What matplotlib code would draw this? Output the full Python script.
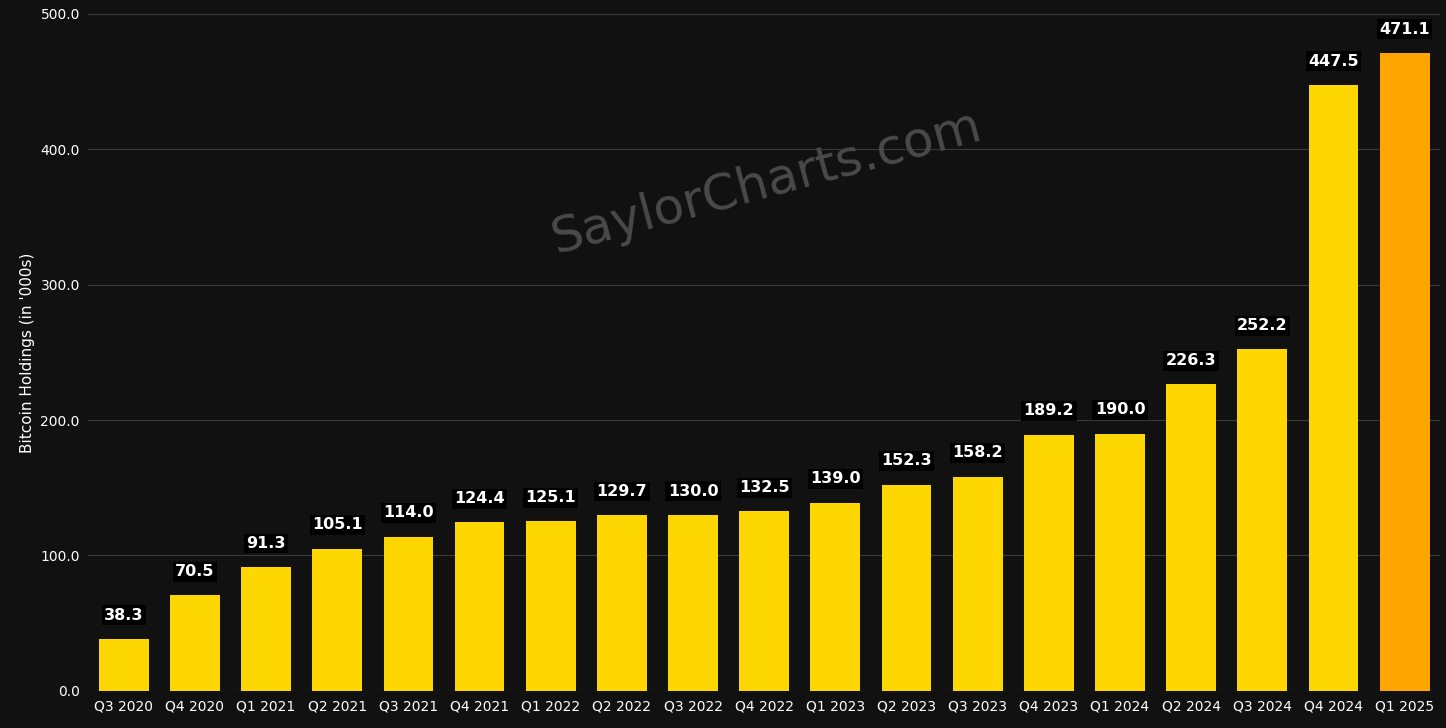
import matplotlib
matplotlib.use("Agg")
import matplotlib.pyplot as plt

quarters = ["Q3 2020", "Q4 2020", "Q1 2021", "Q2 2021", "Q3 2021", "Q4 2021",
            "Q1 2022", "Q2 2022", "Q3 2022", "Q4 2022", "Q1 2023", "Q2 2023",
            "Q3 2023", "Q4 2023", "Q1 2024", "Q2 2024", "Q3 2024", "Q4 2024",
            "Q1 2025"]
holdings = [38.3, 70.5, 91.3, 105.1, 114.0, 124.4, 125.1, 129.7, 130.0, 132.5,
            139.0, 152.3, 158.2, 189.2, 190.0, 226.3, 252.2, 447.5, 471.1]

BG = "#111111"
colors = ["#ffd700"] * (len(holdings) - 1) + ["#ffa500"]

fig = plt.figure(figsize=(14.46, 7.28), dpi=100, facecolor=BG)
ax = fig.add_axes([0.061, 0.051, 0.935, 0.930], facecolor=BG)
x = range(len(holdings))
ax.bar(x, holdings, width=0.7, color=colors, zorder=3)
for i, v in zip(x, holdings):
    ax.text(i, v + 12, f"{v:.1f}", ha="center", va="bottom", color="white",
            fontsize=11.5, fontweight="bold", zorder=4,
            bbox=dict(boxstyle="square,pad=0.15", fc="black", ec="none"))

ax.set_xlim(-0.5, len(holdings) - 0.5)
ax.set_ylim(0, 500)
ax.set_yticks(range(0, 501, 100))
ax.set_yticklabels([f"{t:.1f}" for t in range(0, 501, 100)])
ax.set_xticks(list(x))
ax.set_xticklabels(quarters)
ax.tick_params(colors="white", labelsize=10, length=0, pad=6)
ax.grid(axis="y", color="#3a3a3a", lw=0.8, zorder=0)
for s in ax.spines.values():
    s.set_visible(False)
ax.axhline(0, color="#555555", lw=0.8, zorder=2)
ax.set_ylabel("Bitcoin Holdings (in '000s)", color="white", fontsize=11)

fig.text(0.53, 0.75, "SaylorCharts.com", color="#4a4a4a", fontsize=36,
         rotation=15, ha="center", va="center")

fig.savefig("out.png", dpi=100, facecolor=BG)
